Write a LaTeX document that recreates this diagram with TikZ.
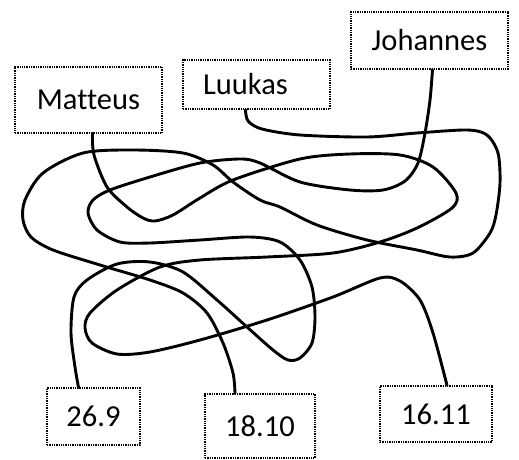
\documentclass[tikz,border=0pt]{standalone}
\usepackage{fontspec}
\setmainfont{Carlito}[Ligatures=NoCommon]
\tikzstyle{gospel}=[
	rectangle,
	draw,
	densely dotted,
	line width=1.3pt,
	inner sep=0pt,
	font=\fontsize{30.5}{36}\selectfont
]
\tikzstyle{feast}=[
	gospel
]
\tikzstyle{thread}=[
	line width=2.9pt,
	line cap=round,
	line join=round
]
\begin{document}
\begin{tikzpicture}[x=1pt,y=-1pt]
\useasboundingbox (0,0) rectangle (519,460);
\node [gospel, minimum width=147pt, minimum height=66pt] (Matteus) at (88.5,100) {Matteus};
\node [gospel, minimum width=147pt, minimum height=49pt] (Luukas) at (256.5,84.5) {\raisebox{-3pt}{Luukas}\hspace*{22pt}};
\node [gospel, minimum width=157pt, minimum height=57pt] (Johannes) at (429.5,40.5) {Johannes};
\node [feast, minimum width=93pt, minimum height=57pt] (Sep26) at (93.5,416.5) {26.9};
\node [feast, minimum width=110pt, minimum height=64pt] (Oct18) at (260,426) {18.10};
\node [feast, minimum width=112pt, minimum height=56pt] (Nov16) at (436,414) {16.11};
% Matteus -> 16.11
\draw [thread] plot [smooth] coordinates {([xshift=4pt]Matteus.south) (94,155) (107,187) (127,207)
	(143,218) (155,221) (173,215) (200,198) (233,180) (300,159) (350,154) (400,155) (433,167)
	(456,193) (452,208) (417,228) (380,242) (333,253) (267,257) (200,260) (160,267) (117,290)
	(90,313) (85,328) (92,343) (117,354) (150,352) (200,340) (267,320) (333,297) (380,278)
	(400,281) (420,300) (433,333) ([xshift=11pt]Nov16.north)};
% Luukas -> 18.10
\draw [thread] plot [smooth] coordinates {([xshift=-11pt]Luukas.south) (248,121) (262,129) (300,135)
	(367,137) (417,133) (467,130) (487,135) (498,153) (500,183) (496,215) (490,233) (473,253)
	(450,257) (417,250) (367,240) (317,225) (280,207) (260,200) (233,182) (213,165) (183,153)
	(133,150) (83,153) (43,173) (25,200) (23,220) (31,237) (53,250) (100,265) (150,280) (183,293)
	(207,313) (223,343) (233,373) ([xshift=-25pt]Oct18.north)};
% Johannes -> 26.9
\draw [thread] plot [smooth] coordinates {([xshift=3pt]Johannes.south) (430,100) (425,133) (418,163)
	(405,181) (383,190) (350,190) (300,182) (260,163) (240,159) (200,163) (150,177) (110,190)
	(93,200) (88,213) (97,230) (120,242) (150,243) (200,240) (250,237) (280,242) (300,260)
	(312,287) (315,317) (312,343) (300,358) (288,360) (273,350) (247,327) (217,300) (183,272)
	(150,262) (117,264) (87,280) (74,297) (71,333) (75,367) ([xshift=-15pt]Sep26.north)};
\end{tikzpicture}
\end{document}
